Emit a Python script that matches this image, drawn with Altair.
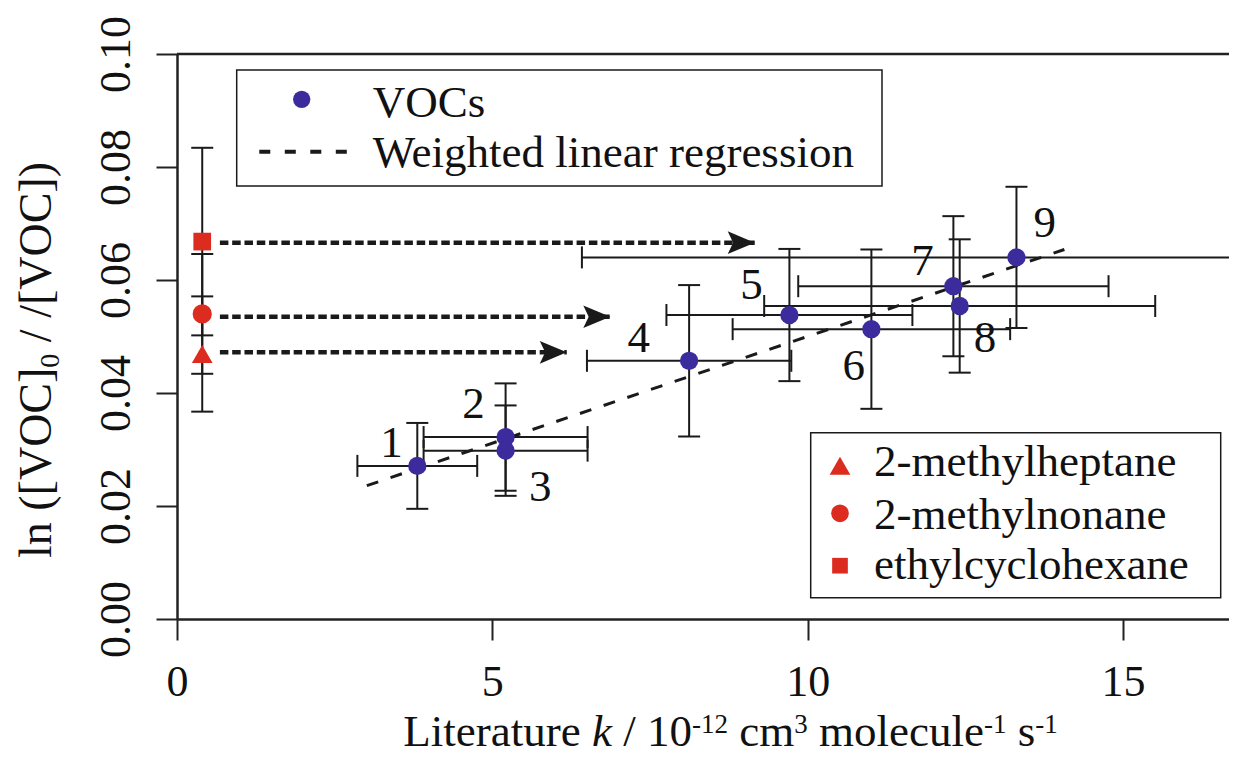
import altair as alt
import pandas as pd

# ---------------- data ----------------
voc_id = ["1", "2", "3", "4", "5", "6", "7", "8", "9"]
voc_k = [3.81, 5.21, 5.21, 8.12, 9.71, 11.01, 12.31, 12.41, 13.31]
voc_k_err = [0.95, 1.30, 1.30, 1.62, 1.95, 2.20, 2.46, 3.10, 6.89]
voc_ln = [0.0271, 0.0322, 0.0298, 0.0457, 0.0538, 0.0513, 0.0589, 0.0554, 0.0640]
voc_ln_err = [0.0076, 0.0095, 0.0080, 0.0134, 0.0117, 0.0141, 0.0124, 0.0118, 0.0125]
label_k = [3.40, 4.70, 5.76, 7.32, 9.11, 10.73, 11.82, 12.81, 13.76]
label_ln = [0.0314, 0.0382, 0.0236, 0.0500, 0.0593, 0.0450, 0.0635, 0.0499, 0.0703]

test_names = ["2-methylheptane", "2-methylnonane", "ethylcyclohexane"]
test_k = [0.40, 0.40, 0.40]
test_ln = [0.0469, 0.0540, 0.0668]
test_ln_err = [0.0102, 0.0106, 0.0166]

arrow_start = [0.68, 0.68, 0.68]
arrow_tip = [6.18, 6.87, 9.16]
arrow_ln = [0.0472, 0.0535, 0.0666]

reg_k = [3.01, 14.07]
reg_ln = [0.0236, 0.0654]

x_ticks = [0, 5, 10, 15]
y_ticks = [0.00, 0.02, 0.04, 0.06, 0.08, 0.10]

# ---------------- style ----------------
FONT = "Liberation Serif"
INK = "#1a1a1a"
AX = "#222222"
BLUE = "#3b2b9d"
RED = "#dc2b1f"
W, H = 1052, 565
XMAX = 16.68

xs = alt.Scale(domain=[0, XMAX], nice=False, zero=False)
ys = alt.Scale(domain=[0, 0.10], nice=False, zero=False)

x_axis = alt.Axis(values=x_ticks, format="d", tickSize=21, tickWidth=2, tickColor=AX,
                  domainColor=AX, domainWidth=2.5, labelFont=FONT, labelFontSize=44,
                  labelColor="#111111", labelBaseline="alphabetic", labelPadding=55,
                  labelFlush=False, labelOverlap=False, grid=False, title=None)
y_axis = alt.Axis(values=y_ticks, format=".2f", tickSize=21, tickWidth=2, tickColor=AX,
                  domainColor=AX, domainWidth=2.5, labelFont=FONT, labelFontSize=44,
                  labelColor="#111111", labelAngle=270, labelAlign="center",
                  labelBaseline="alphabetic", labelPadding=27, labelFlush=False,
                  labelOverlap=False, grid=False, title=None)


def X(f):
    return alt.X(f, type="quantitative", scale=xs, axis=x_axis, title=None)


def Y(f):
    return alt.Y(f, type="quantitative", scale=ys, axis=y_axis, title=None)


voc = pd.DataFrame({"id": voc_id, "k": voc_k, "k_err": voc_k_err,
                    "ln": voc_ln, "ln_err": voc_ln_err,
                    "lk": label_k, "lln": label_ln})
voc["k_lo"] = voc.k - voc.k_err
voc["k_hi"] = voc.k + voc.k_err
voc["ln_lo"] = voc.ln - voc.ln_err
voc["ln_hi"] = voc.ln + voc.ln_err

tst = pd.DataFrame({"name": test_names, "k": test_k, "ln": test_ln, "ln_err": test_ln_err})
tst["ln_lo"] = tst.ln - tst.ln_err
tst["ln_hi"] = tst.ln + tst.ln_err

arr = pd.DataFrame({"k0": arrow_start, "k1": arrow_tip, "ln": arrow_ln})
reg = pd.DataFrame({"k": reg_k, "ln": reg_ln})
one = pd.DataFrame({"a": [0]})

shape_scale = alt.Scale(domain=test_names, range=["triangle-up", "circle", "square"])
size_scale = alt.Scale(domain=test_names, range=[428, 313, 246])
ARROW = "M0,0L-2,-0.84L-1.6,0L-2,0.84Z"

layers = []
# vertical error bars of the VOCs
layers.append(alt.Chart(voc).mark_rule(color=INK, strokeWidth=2, clip=True).encode(
    x=X("k"), y=Y("ln_lo"), y2="ln_hi"))
for f in ["ln_lo", "ln_hi"]:
    layers.append(alt.Chart(voc).mark_tick(orient="horizontal", size=22, thickness=2,
                                           color=INK, opacity=1, clip=True).encode(
        x=X("k"), y=Y(f)))
layers.append(alt.Chart(voc).mark_rule(color=INK, strokeWidth=2, clip=True).encode(
    x=X("k_lo"), x2="k_hi", y=Y("ln")))
for f in ["k_lo", "k_hi"]:
    layers.append(alt.Chart(voc).mark_tick(orient="vertical", size=22, thickness=2,
                                           color=INK, opacity=1, clip=True).encode(
        x=X(f), y=Y("ln")))
# error bars of the test compounds
layers.append(alt.Chart(tst).mark_rule(color=INK, strokeWidth=2, clip=True).encode(
    x=X("k"), y=Y("ln_lo"), y2="ln_hi"))
for f in ["ln_lo", "ln_hi"]:
    layers.append(alt.Chart(tst).mark_tick(orient="horizontal", size=22, thickness=2,
                                           color=INK, opacity=1, clip=True).encode(
        x=X("k"), y=Y(f)))
# regression line
layers.append(alt.Chart(reg).mark_line(color=INK, strokeWidth=3, strokeDash=[12, 13],
                                       clip=True).encode(x=X("k"), y=Y("ln")))
# arrows
layers.append(alt.Chart(arr).mark_rule(color=INK, strokeWidth=4.5, strokeDash=[8.5, 3.8],
                                       clip=True).encode(x=X("k0"), x2="k1", y=Y("ln")))
layers.append(alt.Chart(arr).mark_point(shape=ARROW, size=729, filled=True, color=INK,
                                        opacity=1, strokeWidth=0).encode(
    x=X("k1"), y=Y("ln")))
# points
layers.append(alt.Chart(voc).mark_circle(size=335, color=BLUE, opacity=1).encode(
    x=X("k"), y=Y("ln")))
layers.append(alt.Chart(tst).mark_point(filled=True, color=RED, opacity=1,
                                        strokeWidth=0).encode(
    x=X("k"), y=Y("ln"),
    shape=alt.Shape("name:N", scale=shape_scale, legend=None),
    size=alt.Size("name:N", scale=size_scale, legend=None)))
# numbers
layers.append(alt.Chart(voc).mark_text(font=FONT, fontSize=45, color="#111111",
                                       baseline="alphabetic", align="center", dy=15).encode(
    x=X("lk"), y=Y("lln"), text="id:N"))

# top frame line
layers.append(alt.Chart(one).mark_rule(color=AX, strokeWidth=2.5).encode(
    x=alt.value(0), x2=alt.value(W), y=alt.value(0)))

# ---- legend 1 ----
layers.append(alt.Chart(one).mark_rect(fill="white", stroke=INK, strokeWidth=1.5).encode(
    x=alt.value(59.7), x2=alt.value(705), y=alt.value(16), y2=alt.value(132)))
layers.append(alt.Chart(one).mark_circle(size=300, color=BLUE, opacity=1).encode(
    x=alt.value(124.7), y=alt.value(45.3)))
layers.append(alt.Chart(one).mark_rule(color=INK, strokeWidth=4, strokeDash=[11, 14.5]).encode(
    x=alt.value(82.3), x2=alt.value(172), y=alt.value(97.7)))


def txt(s, x, y, size=45, italic=False, angle=0):
    kw = dict(font=FONT, fontSize=size, color="#111111", align="left", baseline="alphabetic")
    if italic:
        kw["fontStyle"] = "italic"
    if angle:
        kw["angle"] = angle
    return alt.Chart(one).mark_text(**kw).encode(
        x=alt.value(x), y=alt.value(y), text=alt.value(s))


layers.append(txt("VOCs", 195.7, 63.3))
layers.append(txt("Weighted linear regression", 195.7, 113.3))

# ---- legend 2 ----
layers.append(alt.Chart(one).mark_rect(fill="white", stroke=INK, strokeWidth=1.5).encode(
    x=alt.value(633.7), x2=alt.value(1043.7), y=alt.value(378.7), y2=alt.value(543.7)))
leg_y = [411.7, 459.3, 511.7]
leg_base = [422, 475.3, 525.3]
for nm, sh, sz, yy, yb in zip(test_names, ["triangle-up", "circle", "square"],
                              [428, 313, 246], leg_y, leg_base):
    layers.append(alt.Chart(one).mark_point(shape=sh, size=sz, filled=True, color=RED,
                                            opacity=1, strokeWidth=0).encode(
        x=alt.value(663), y=alt.value(yy)))
    layers.append(txt(nm, 697, yb))

# ---- axis titles built from pieces (italic k, superscripts, subscript) ----
W_REG = {' ': 250, '/': 278, '-': 333, '(': 333, ')': 333, '[': 333, ']': 333,
         '0': 500, '1': 500, '2': 500, '3': 500, 'L': 611, 'V': 722, 'O': 722, 'C': 667,
         'a': 444, 'c': 444, 'e': 444, 'i': 278, 'l': 278, 'm': 778, 'n': 500, 'o': 500,
         'r': 333, 's': 389, 't': 278, 'u': 500}
W_IT = {'k': 444}


def tw(s, size, italic=False):
    tab = W_IT if italic else W_REG
    return sum(tab.get(c, W_REG.get(c, 500)) for c in s) * size / 1000.0


xt_pieces = [("Literature ", 45, False, 0), ("k", 45, True, 0), (" / 10", 45, False, 0),
             ("-12", 27, False, 13), (" cm", 45, False, 0), ("3", 27, False, 13),
             (" molecule", 45, False, 0), ("-1", 27, False, 13), (" s", 45, False, 0),
             ("-1", 27, False, 13)]
total = sum(tw(p[0], p[1], p[2]) for p in xt_pieces)
cx = 553.5
base = 692
xpos = cx - total / 2
for s, sz, it, rise in xt_pieces:
    lead = len(s) - len(s.lstrip(" "))
    layers.append(txt(s.strip(), xpos + lead * 250 * sz / 1000.0, base - rise, sz, it))
    xpos += tw(s, sz, it)

yt_pieces = [("ln ([VOC]", 46, 0), ("0", 28, -8), (" / /[VOC])", 46, 0)]
ypos = 504
for s, sz, drop in yt_pieces:
    lead = len(s) - len(s.lstrip(" "))
    layers.append(txt(s.strip(), -126 - drop, ypos - lead * 250 * sz / 1000.0, sz,
                      False, 270))
    ypos -= tw(s, sz)

chart = alt.layer(*layers).properties(
    width=W, height=H,
    autosize=alt.AutoSizeParams(type="none"),
    padding={"left": 169, "top": 46, "right": 0, "bottom": 137},
    background="white",
).configure_view(stroke=None)

chart.save("out.html", embed_options={"renderer": "svg", "actions": False})
